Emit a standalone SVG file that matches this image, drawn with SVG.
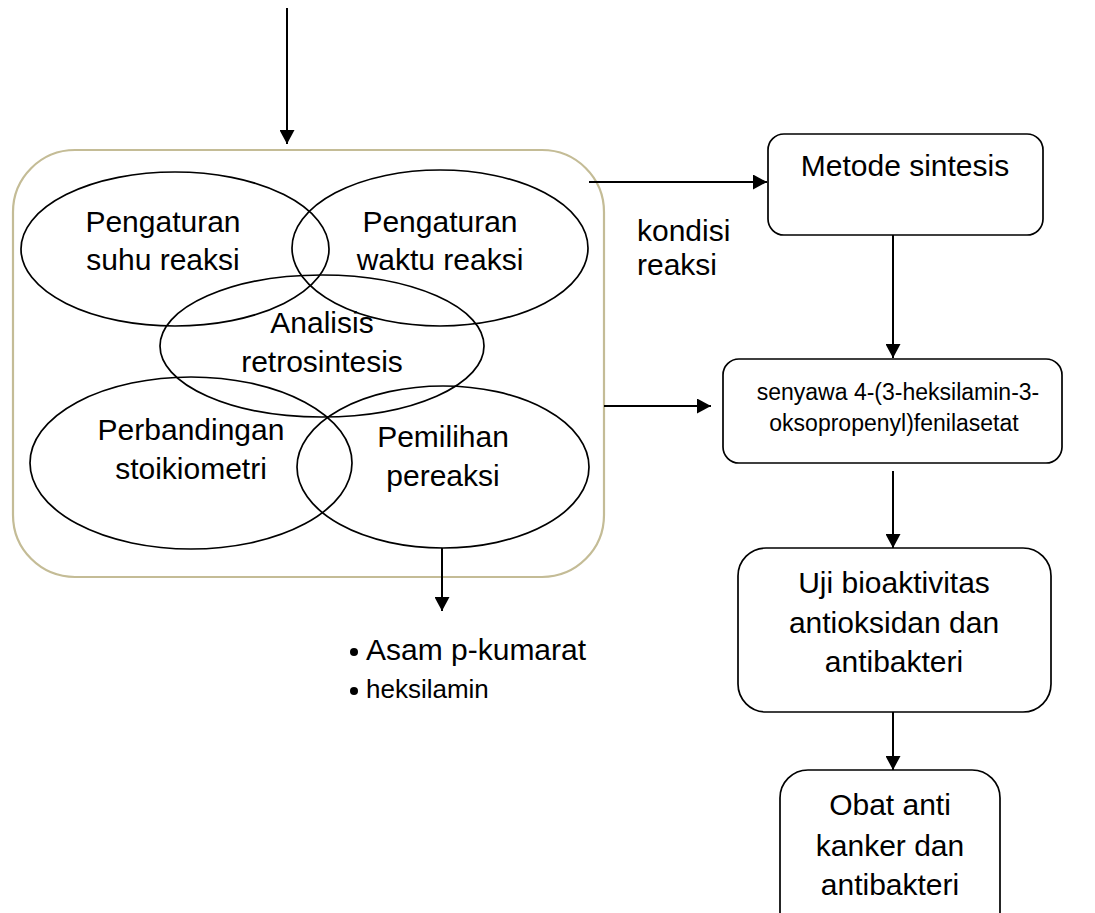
<svg xmlns="http://www.w3.org/2000/svg" width="1095" height="913" viewBox="0 0 1095 913">
<style>
.t{font-family:"Liberation Sans",Arial,sans-serif;fill:#000;text-anchor:middle;font-size:30px}
.s{text-anchor:start}
.m{font-size:23px}
.e{fill:none;stroke:#000;stroke-width:1.7}
.b{fill:#fff;stroke:#000;stroke-width:1.7}
.c{fill:none;stroke:#000;stroke-width:2}
</style>
<defs>
<marker id="a" viewBox="0 0 14 15" refX="14" refY="7.5" markerWidth="14" markerHeight="15" markerUnits="userSpaceOnUse" orient="auto"><path d="M0,0L14,7.5L0,15z" fill="#000"/></marker>
</defs>
<rect width="1095" height="913" fill="#fff"/>
<g id="container"><rect x="13" y="150" width="591" height="427" rx="62" fill="none" stroke="#c4bc96" stroke-width="2.2"/></g>
<g id="suhu"><ellipse class="e" cx="175" cy="249" rx="154" ry="77"/><text class="t" x="163" y="232">Pengaturan</text><text class="t" x="163" y="270">suhu reaksi</text></g>
<g id="waktu"><ellipse class="e" cx="440" cy="248" rx="148" ry="78"/><text class="t" x="440" y="232">Pengaturan</text><text class="t" x="440" y="270">waktu reaksi</text></g>
<g id="retro"><ellipse class="e" cx="322" cy="346" rx="162" ry="71"/><text class="t" x="322" y="333">Analisis</text><text class="t" x="322" y="372">retrosintesis</text></g>
<g id="stoikio"><ellipse class="e" cx="191" cy="463" rx="161" ry="86"/><text class="t" x="191" y="440">Perbandingan</text><text class="t" x="191" y="479">stoikiometri</text></g>
<g id="pereaksi"><ellipse class="e" cx="443" cy="467" rx="146" ry="81"/><text class="t" x="443" y="447">Pemilihan</text><text class="t" x="443" y="486">pereaksi</text></g>
<g id="metode"><rect class="b" x="768" y="134" width="275" height="101" rx="16"/><text class="t" x="905" y="176">Metode sintesis</text></g>
<g id="senyawa"><rect class="b" x="723" y="359" width="339" height="104" rx="16"/><text class="t m" x="898" y="400">senyawa 4-(3-heksilamin-3-</text><text class="t m" x="894" y="431">oksopropenyl)fenilasetat</text></g>
<g id="uji"><rect class="b" x="738" y="548" width="313" height="164" rx="28"/><text class="t" x="894" y="593">Uji bioaktivitas</text><text class="t" x="894" y="633">antioksidan dan</text><text class="t" x="894" y="672">antibakteri</text></g>
<g id="obat"><rect class="b" x="780" y="770" width="220" height="170" rx="28"/><text class="t" x="890" y="815">Obat anti</text><text class="t" x="890" y="856">kanker dan</text><text class="t" x="890" y="895">antibakteri</text></g>
<g id="kondisi"><text class="t s" x="637" y="241">kondisi</text><text class="t s" x="637" y="275">reaksi</text></g>
<g id="bahan"><circle cx="354" cy="652" r="4"/><text class="t s" x="366" y="660">Asam p-kumarat</text><circle cx="354" cy="691" r="4"/><text class="t s" style="font-size:26px" x="366" y="698">heksilamin</text></g>
<g id="connectors">
<line class="c" x1="287" y1="8" x2="287" y2="144" marker-end="url(#a)"/>
<line class="c" x1="589" y1="182" x2="767" y2="182" marker-end="url(#a)"/>
<line class="c" x1="893" y1="235" x2="893" y2="358" marker-end="url(#a)"/>
<line class="c" x1="604" y1="406" x2="711" y2="406" marker-end="url(#a)"/>
<line class="c" x1="893" y1="471" x2="893" y2="548" marker-end="url(#a)"/>
<line class="c" x1="893" y1="712" x2="893" y2="770" marker-end="url(#a)"/>
<line class="c" x1="442" y1="548" x2="442" y2="611" marker-end="url(#a)"/>
</g>
</svg>
